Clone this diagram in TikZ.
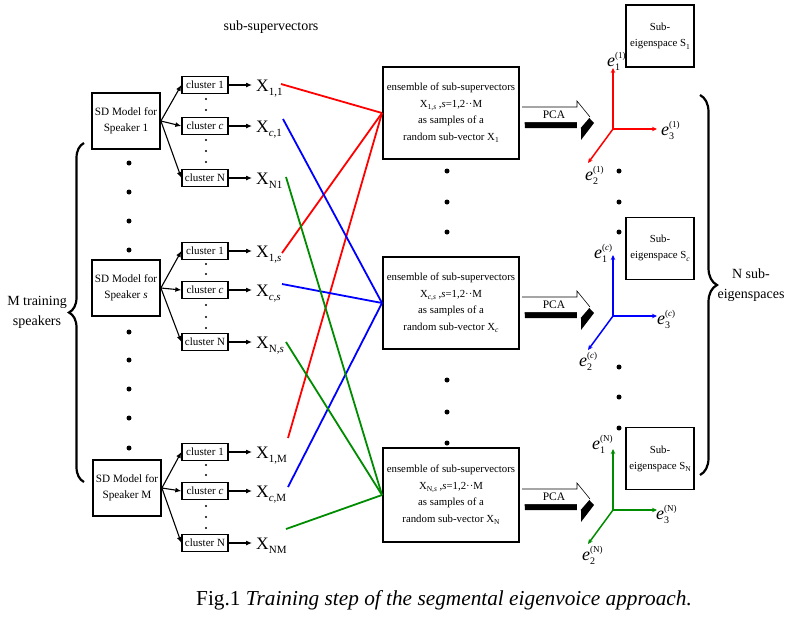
\documentclass[tikz,border=0pt]{standalone}
\usepackage{fontspec}
\setmainfont{Liberation Serif}
\usetikzlibrary{arrows.meta,decorations.pathreplacing,calc}
\definecolor{rd}{RGB}{255,0,0}
\definecolor{bl}{RGB}{0,0,255}
\definecolor{gr}{RGB}{0,140,0}
\newcommand{\Xsub}[1]{X\raisebox{-4pt}{\fontsize{11}{11}\selectfont #1}}
\newcommand{\ssub}[1]{\raisebox{-2.5pt}{\fontsize{7.5}{7.5}\selectfont #1}}
\newcommand{\evec}[2]{\textit{e}\rlap{\raisebox{-4pt}{\fontsize{10}{10}\selectfont #1}}\raisebox{8pt}{\fontsize{9}{9}\selectfont (#2)}}
\begin{document}
\begin{tikzpicture}[x=1pt,y=-1pt,
  sdbox/.style={draw, line width=1.8pt, minimum width=68pt, minimum height=56pt, align=center, inner sep=1pt, font=\fontsize{11.2}{16}\selectfont},
  clbox/.style={draw, line width=1.3pt, minimum width=46pt, minimum height=17pt, inner sep=1pt, font=\fontsize{11}{12}\selectfont},
  ensbox/.style={draw, line width=2pt, minimum width=136pt, minimum height=92pt, align=center, inner sep=1pt, font=\fontsize{10.8}{16.5}\selectfont},
  eigbox/.style={draw, line width=1.8pt, minimum width=68pt, minimum height=62pt, align=center, inner sep=1pt, font=\fontsize{10.8}{16}\selectfont},
  xlab/.style={anchor=base west, inner xsep=4pt, inner ysep=2pt, font=\fontsize{17.5}{17.5}\selectfont},
  elab/.style={anchor=base west, inner sep=0pt, font=\fontsize{18}{18}\selectfont},
  arr/.style={line width=1.1pt, -{Latex[length=6pt,width=5pt]}},
  bigdot/.style={circle, fill, inner sep=0pt, minimum size=5pt},
  smalldot/.style={circle, fill, inner sep=0pt, minimum size=2.2pt},
  axis/.style={line width=1.5pt, -{Stealth[length=5pt,width=4.5pt]}},
  cline/.style={line width=1.8pt},
  bracestyle/.style={line width=2.2pt, decorate}
]
\useasboundingbox (0,0) rectangle (792,625);

% heading
\node[font=\fontsize{14}{14}\selectfont] (hd) at (271,27) {sub-supervectors};

% SD model boxes
\node[sdbox] (sd1) at (126,121) {SD Model for\\Speaker 1};
\node[sdbox] (sds) at (126,288) {SD Model for\\Speaker \textit{s}};
\node[sdbox] (sdM) at (127,488) {SD Model for\\Speaker M};

% dots in SD column
\foreach \yy [count=\i] in {163,192,221,250,332,360,389,418,448}
  \node[bigdot] (sdd\i) at (129,\yy) {};

% cluster boxes
\node[clbox] (c11) at (205,85) {cluster 1};
\node[clbox] (cc1) at (205,126) {cluster \textit{c}};
\node[clbox] (cN1) at (205,178) {cluster N};
\node[clbox] (c1s) at (205,251) {cluster 1};
\node[clbox] (ccs) at (205,290) {cluster \textit{c}};
\node[clbox] (cNs) at (205,342) {cluster N};
\node[clbox] (c1M) at (205,452) {cluster 1};
\node[clbox] (ccM) at (205,491) {cluster \textit{c}};
\node[clbox] (cNM) at (205,543) {cluster N};

% small dots between clusters
\foreach \yy [count=\i] in {99,110,140,151,162, 264,274,305,317,328, 465,475,506,517,528}
  \node[smalldot] (cd\i) at (206,\yy) {};

% arrows SD -> clusters
\foreach \s in {1,s,M}{
  \draw[arr] (sd\s.east) -- (c1\s.west);
  \draw[arr] (sd\s.east) -- (cc\s.west);
  \draw[arr] (sd\s.east) -- (cN\s.west);
}

% X labels
\node[xlab] (x11) at (252,91) {\Xsub{1,1}};
\node[xlab] (xc1) at (252,132) {\Xsub{\textit{c},1}};
\node[xlab] (xN1) at (252,184) {\Xsub{N1}};
\node[xlab] (x1s) at (252,257) {\Xsub{1,\textit{s}}};
\node[xlab] (xcs) at (252,296) {\Xsub{\textit{c},\textit{s}}};
\node[xlab] (xNs) at (252,348) {\Xsub{N,\textit{s}}};
\node[xlab] (x1M) at (252,458) {\Xsub{1,M}};
\node[xlab] (xcM) at (252,497) {\Xsub{\textit{c},M}};
\node[xlab] (xNM) at (252,549) {\Xsub{NM}};

% arrows clusters -> X
\foreach \a/\b in {c11/x11,cc1/xc1,cN1/xN1,c1s/x1s,ccs/xcs,cNs/xNs,c1M/x1M,ccM/xcM,cNM/xNM}
  \draw[arr] (\a.east) -- (\a.east -| \b.west);

% ensemble boxes
\node[ensbox] (e1) at (451,113) {ensemble of sub-supervectors\\X\ssub{1,\textit{s}} ,\textit{s}=1,2··M\\as samples of a\\random sub-vector X\ssub{1}};
\node[ensbox] (e2) at (451,303) {ensemble of sub-supervectors\\X\ssub{\textit{c},\textit{s}} ,\textit{s}=1,2··M\\as samples of a\\random sub-vector X\ssub{\textit{c}}};
\node[ensbox, minimum height=94pt] (e3) at (451,495) {ensemble of sub-supervectors\\X\ssub{N,\textit{s}} ,\textit{s}=1,2··M\\as samples of a\\random sub-vector X\ssub{N}};

% dots in ensemble column
\foreach \yy [count=\i] in {171,202,232,380,412,443}
  \node[bigdot] (ed\i) at (447,\yy) {};

% line start points
\coordinate (s11) at (281,84);
\coordinate (sc1) at (283,119);
\coordinate (sN1) at (286,177);
\coordinate (s1s) at (282,253);
\coordinate (scs) at (282,284);
\coordinate (sNs) at (286,342);
\coordinate (s1M) at (288,438);
\coordinate (scM) at (288,487);
\coordinate (sNM) at (286,529);

\draw[cline, rd] (s11) -- (e1.west);
\draw[cline, rd] (s1s) -- (e1.west);
\draw[cline, rd] (s1M) -- (e1.west);
\draw[cline, bl] (sc1) -- (e2.west);
\draw[cline, bl] (scs) -- (e2.west);
\draw[cline, bl] (scM) -- (e2.west);
\draw[cline, gr] (sN1) -- (e3.west);
\draw[cline, gr] (sNs) -- (e3.west);
\draw[cline, gr] (sNM) -- (e3.west);

% PCA arrows
\foreach \cy/\k in {115/1,305/2,497/3}{
  \begin{scope}[shift={(0,\cy)}]
    \fill[black] (524,-2) -- (579,-2) -- (579,-8) -- (594,8) -- (581,25) -- (581,13) -- (525,13) -- cycle;
    \fill[white] (522,-8) -- (577,-8) -- (577,-14) -- (590,2) -- (577,17) -- (577,7) -- (522,7) -- cycle;
    \draw[line width=0.6pt] (522,-8) -- (577,-8) -- (577,-14) -- (590,2);
    \node[font=\fontsize{11.5}{11.5}\selectfont] (pca\k) at (554,0) {PCA};
  \end{scope}
}

% axes
\foreach \oy/\c/\k in {129/rd/1,316/bl/2,510/gr/3}{
  \coordinate (o\k) at (613,\oy);
  \coordinate (ta\k) at (613,\oy-61);
  \coordinate (tb\k) at (588,\oy+34);
  \coordinate (tc\k) at (657,\oy);
  \draw[axis, \c] (o\k) -- (ta\k);
  \draw[axis, \c] (o\k) -- (tb\k);
  \draw[axis, \c] (o\k) -- (tc\k);
}
\node[elab] (e11) at (607,66) {\evec{1}{1}};
\node[elab] (e31) at (661,135) {\evec{3}{1}};
\node[elab] (e21) at (585,180) {\evec{2}{1}};
\node[elab] (e12) at (594,258) {\evec{1}{\textit{c}}};
\node[elab] (e32) at (657,324) {\evec{3}{\textit{c}}};
\node[elab] (e22) at (579,366) {\evec{2}{\textit{c}}};
\node[elab] (e13) at (592,449) {\evec{1}{N}};
\node[elab] (e33) at (656,519) {\evec{3}{N}};
\node[elab] (e23) at (582,560) {\evec{2}{N}};

% right dots
\foreach \yy [count=\i] in {171,202,232,367,397,428}
  \node[bigdot] (rd\i) at (619,\yy) {};

% sub-eigenspace boxes
\node[eigbox] (S1) at (660,36) {Sub-\\eigenspace S\ssub{1}};
\node[eigbox] (Sc) at (660,248.5) {Sub-\\eigenspace S\ssub{\textit{c}}};
\node[eigbox] (SN) at (660,458.5) {Sub-\\eigenspace S\ssub{N}};

% braces
\draw[bracestyle, decoration={brace, amplitude=15pt}] (84,482) -- (84,143);
\draw[bracestyle, decoration={brace, amplitude=17pt}] (700,95) -- (700,475);

\node[align=center, font=\fontsize{14}{20}\selectfont] (mts) at (37,312) {M training\\speakers};
\node[align=center, font=\fontsize{14}{20}\selectfont] (nse) at (751,285) {N sub-\\eigenspaces};

% caption
\node[font=\fontsize{21.3}{21.3}\selectfont] (cap) at (444,600) {Fig.1 \textit{Training step of the segmental eigenvoice approach.}};
\end{tikzpicture}
\end{document}
